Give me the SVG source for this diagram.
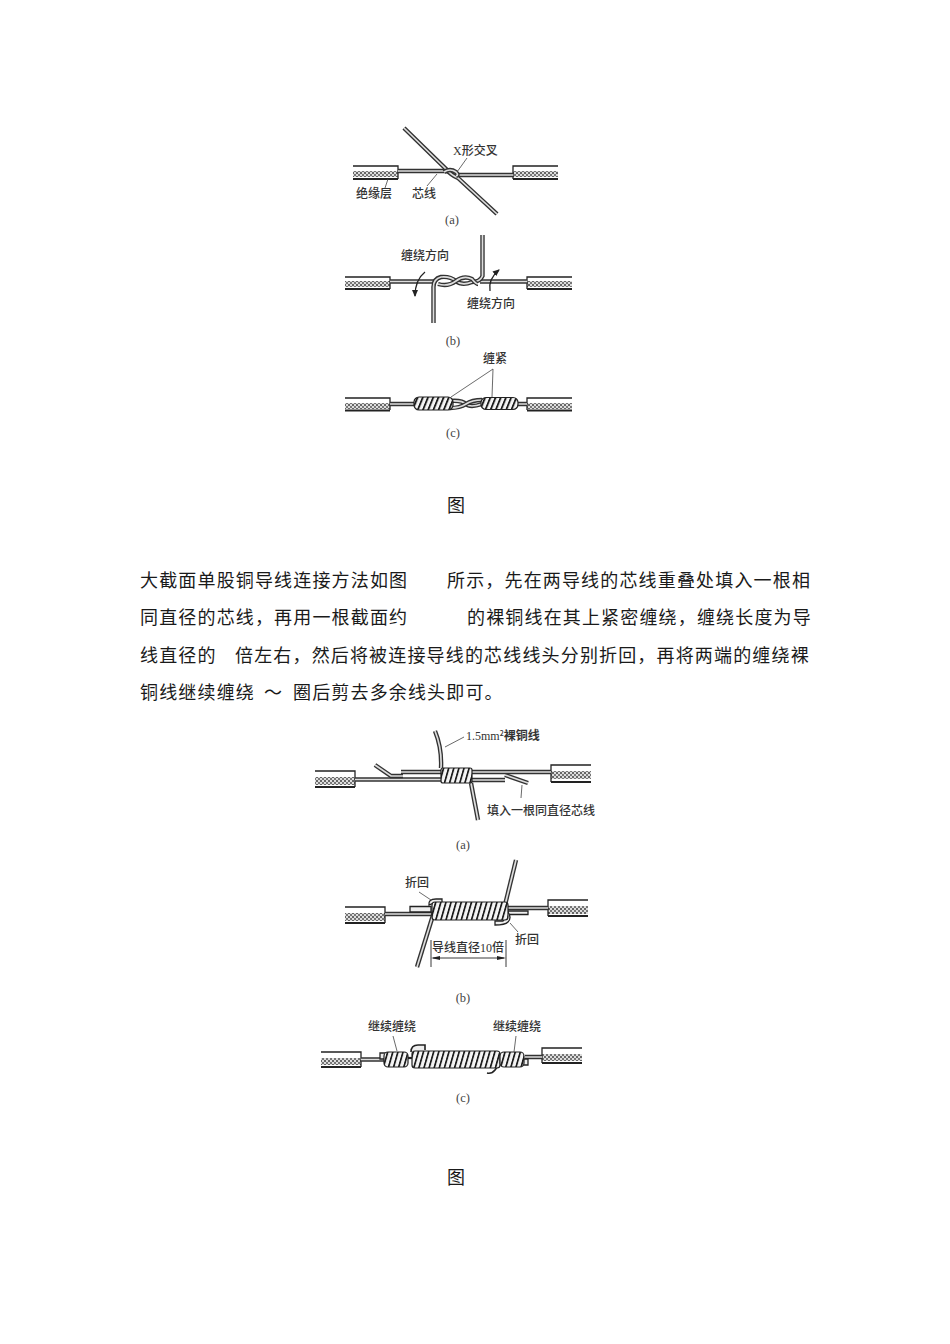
<svg xmlns="http://www.w3.org/2000/svg" width="950" height="1344" viewBox="0 0 950 1344">
<style>
.body{font-family:"Noto Sans CJK SC","Liberation Sans",sans-serif;font-size:18px;letter-spacing:1.16px;fill:#1a1a1a}
.lb{font-family:"Noto Sans CJK SC",sans-serif;font-size:12px;fill:#333;font-weight:500}
.cap{font-family:"Liberation Serif",serif;font-size:12.500px;fill:#444;text-anchor:middle}
.ln{fill:none;stroke:#222;stroke-width:1.3}
.thk{fill:none;stroke:#222;stroke-width:2.200}
.lead{fill:none;stroke:#444;stroke-width:.8}
.wo{fill:none;stroke:#333;stroke-width:4.400}
.wi{fill:none;stroke:#ddd;stroke-width:1.700}
.coil{fill:url(#cp);stroke:#222;stroke-width:1.200}
.coilb{fill:url(#cpb);stroke:#222;stroke-width:1.200}
.hat{fill:url(#hp)}
.bl{filter:url(#soft)}
</style>
<defs>
<filter id="soft" x="-5%" y="-5%" width="110%" height="110%"><feGaussianBlur stdDeviation="0.4"/></filter>
<pattern id="hp" width="4" height="4" patternUnits="userSpaceOnUse"><rect width="4" height="4" fill="#ddd"/><rect width="2" height="2" fill="#666"/><rect x="2" y="2" width="2" height="2" fill="#777"/></pattern>
<pattern id="cp" width="5.100" height="30" patternUnits="userSpaceOnUse" patternTransform="skewX(-16)"><rect width="5.100" height="30" fill="#f5f5f5"/><rect width="1.800" height="30" fill="#1c1c1c"/></pattern>
<pattern id="cpb" width="5.200" height="30" patternUnits="userSpaceOnUse" patternTransform="skewX(-22)"><rect width="5.200" height="30" fill="#f5f5f5"/><rect width="2" height="30" fill="#1c1c1c"/></pattern>
<marker id="ah" markerWidth="7" markerHeight="6" refX="6" refY="3" orient="auto" markerUnits="userSpaceOnUse"><path d="M0 0L7 3L0 6Z" fill="#222"/></marker>
</defs>
<rect width="950" height="1344" fill="#fff"/>

<g id="fig1a" class="bl">
<rect class="hat" x="353" y="171" width="45" height="6"/>
<path class="ln" d="M353 166H398V179"/><path class="thk" d="M353 179H398"/>
<rect class="hat" x="513" y="171" width="45" height="6"/>
<path class="ln" d="M558 166H513V179"/><path class="thk" d="M558 179H513"/>
<path class="wo" d="M398 171H444Q452 171 458 175H513"/><path class="wi" d="M398 171H444Q452 171 458 175H513"/>
<path class="wo" d="M404 128L446 169Q451 175 458 178L497 214"/><path class="wi" d="M404 128L446 169Q451 175 458 178L497 214"/>
<path class="wo" d="M444 172Q450 168 456 172Q459 175 456 176"/><path class="wi" d="M444 172Q450 168 456 172Q459 175 456 176"/>
<path class="lead" d="M467 158L457 172M388 179L385 188M437 174L427 186"/>
</g>
<g id="fig1a-labels">
<text class="lb" x="453" y="155"><tspan font-family="Liberation Serif">X</tspan>形交叉</text>
<text class="lb" x="356" y="198">绝缘层</text>
<text class="lb" x="412" y="198">芯线</text>
<text class="cap" x="452" y="224">(a)</text>
</g>

<g id="fig1b" class="bl">
<rect class="hat" x="345" y="281" width="45" height="6"/>
<path class="ln" d="M345 277H390V289"/><path class="thk" d="M345 289H390"/>
<rect class="hat" x="527" y="281" width="45" height="6"/>
<path class="ln" d="M572 277H527V289"/><path class="thk" d="M572 289H527"/>
<path class="wo" d="M390 281.500H436"/><path class="wi" d="M390 281.500H436"/>
<path class="wo" d="M480 281.500H527"/><path class="wi" d="M480 281.500H527"/>
<path class="wo" d="M433.500 323V288Q433 279 441 277Q450 276 456 281T472 282Q480 282 482.500 276V235"/><path class="wi" d="M433.500 323V288Q433 279 441 277Q450 276 456 281T472 282Q480 282 482.500 276V235"/>
<path class="wo" d="M438 284Q448 287 456 281T472 279Q476 284 478 284"/><path class="wi" d="M438 284Q448 287 456 281T472 279Q476 284 478 284"/>
<path class="ln" marker-end="url(#ah)" d="M425 272Q415 280 415 296"/>
<path class="ln" marker-end="url(#ah)" d="M490 291Q488 279 499 270"/>
</g>
<g id="fig1b-labels">
<text class="lb" x="401" y="260">缠绕方向</text>
<text class="lb" x="467" y="308">缠绕方向</text>
<text class="cap" x="453" y="345">(b)</text>
</g>

<g id="fig1c" class="bl">
<rect class="hat" x="345" y="403" width="45" height="6"/>
<path class="ln" d="M345 398H390V410"/><path class="thk" d="M345 410.500H390"/>
<rect class="hat" x="527" y="403" width="45" height="6"/>
<path class="ln" d="M572 398H527V410"/><path class="thk" d="M572 410.500H527"/>
<path class="wo" d="M390 404H414M516 404H527"/><path class="wi" d="M390 404H414M516 404H527"/>
<path class="wo" d="M450 401Q462 400 466 404T482 404"/><path class="wi" d="M450 401Q462 400 466 404T482 404"/>
<path class="wo" d="M450 408Q460 408 466 404T482 400"/><path class="wi" d="M450 408Q460 408 466 404T482 400"/>
<rect class="coilb" x="414" y="397" width="39" height="13" rx="5"/>
<rect class="coilb" x="481" y="397.500" width="37" height="12" rx="5"/>
<path class="lead" d="M493 369L451 397M493 369L492 397"/>
</g>
<g id="fig1c-labels">
<text class="lb" x="483" y="363">缠紧</text>
<text class="cap" x="453" y="437">(c)</text>
</g>

<g id="caption1"><text class="body" x="447" y="512">图</text></g>

<g id="paragraph">
<text class="body" x="140" y="587">大截面单股铜导线连接方法如图</text>
<text class="body" x="447" y="587">所示&#65292;先在两导线的芯线重叠处填入一根相</text>
<text class="body" x="140" y="624">同直径的芯线&#65292;再用一根截面约</text>
<text class="body" x="467" y="624">的裸铜线在其上紧密缠绕&#65292;缠绕长度为导</text>
<text class="body" x="140" y="662">线直径的</text>
<text class="body" x="235" y="662">倍左右&#65292;然后将被连接导线的芯线线头分别折回&#65292;再将两端的缠绕裸</text>
<text class="body" x="140" y="699">铜线继续缠绕</text>
<text class="body" x="264" y="699">&#65374;</text>
<text class="body" x="293" y="699">圈后剪去多余线头即可&#12290;</text>
</g>

<g id="fig2a" class="bl">
<rect class="hat" x="315" y="777" width="40" height="8"/>
<path class="ln" d="M315 771H355V787"/><path class="thk" d="M315 787H355"/>
<rect class="hat" x="551" y="771" width="40" height="8"/>
<path class="ln" d="M591 765H551V782"/><path class="thk" d="M591 782H551"/>
<path class="wo" d="M355 779.500H442"/><path class="wi" d="M355 779.500H442"/>
<path class="wo" d="M401 772H442M471 772H551"/><path class="wi" d="M401 772H442M471 772H551"/>
<path class="wo" d="M471 780H505"/><path class="wi" d="M471 780H505"/>
<path class="wo" d="M375 765L391 776H403"/><path class="wi" d="M375 765L391 776H403"/>
<path class="wo" d="M505 775L528 783"/><path class="wi" d="M505 775L528 783"/>
<path class="wo" d="M435 731Q442 748 441 768"/><path class="wi" d="M435 731Q442 748 441 768"/>
<path class="wo" d="M471 783L478 820"/><path class="wi" d="M471 783L478 820"/>
<rect class="coil" x="441" y="768" width="31" height="15" rx="2"/>
<path class="lead" d="M445 747L464 737M522 785L521 798"/>
</g>
<g id="fig2a-labels">
<text class="lb" x="466" y="740"><tspan font-family="Liberation Serif">1.5mm</tspan><tspan font-size="7" dy="-4">2</tspan><tspan dy="4" font-weight="700">裸铜线</tspan></text>
<text class="lb" x="487" y="815">填入一根同直径芯线</text>
<text class="cap" x="463" y="849">(a)</text>
</g>

<g id="fig2b" class="bl">
<rect class="hat" x="345" y="913" width="40" height="8"/>
<path class="ln" d="M345 907H385V923"/><path class="thk" d="M345 923H385"/>
<rect class="hat" x="548" y="906" width="40" height="8"/>
<path class="ln" d="M588 900H548V916"/><path class="thk" d="M588 916H548"/>
<path class="wo" d="M385 914H432M505 908H548"/><path class="wi" d="M385 914H432M505 908H548"/>
<path class="ln" d="M410 906.500H431V912H410ZM508 911H528V914.500H508Z" style="fill:#eee"/>
<path class="wo" d="M434 912L417 967"/><path class="wi" d="M434 912L417 967"/>
<path class="wo" d="M516 860L505 905"/><path class="wi" d="M516 860L505 905"/>
<path class="ln" style="fill:#eee" d="M429 905Q428 899 436 899H442V903H434Z"/>
<path class="ln" style="fill:#eee" d="M495 921H503Q507 917 508 912Q512 918 508 922Q505 925 495 925Z"/>
<rect class="coil" x="432" y="902" width="76" height="18" rx="3"/>
<path class="lead" d="M419 892L431 900M510 923L518 932"/>
<path class="ln" style="stroke-width:.9" d="M431 940V967M506 940V967M433 958H504"/>
<path d="M431 958L440 956V960ZM506 958L497 956V960Z" fill="#222"/>
</g>
<g id="fig2b-labels">
<text class="lb" x="405" y="887">折回</text>
<text class="lb" x="515" y="944">折回</text>
<text class="lb" x="432" y="952">导线直径<tspan font-family="Liberation Serif">10</tspan>倍</text>
<text class="cap" x="463" y="1002">(b)</text>
</g>

<g id="fig2c" class="bl">
<rect class="hat" x="321" y="1058" width="40" height="7"/>
<path class="ln" d="M321 1052H361V1067"/><path class="thk" d="M321 1067H361"/>
<rect class="hat" x="542" y="1054" width="40" height="7"/>
<path class="ln" d="M582 1048H542V1063"/><path class="thk" d="M582 1063H542"/>
<path class="wo" d="M361 1059.500H384M525 1057H542"/><path class="wi" d="M361 1059.500H384M525 1057H542"/>
<path class="ln" style="fill:#eee" d="M380 1053H386V1059H380ZM522 1059H528V1065H522Z"/>
<path class="ln" style="fill:#eee;stroke-width:1.600" d="M411 1052Q411 1045 418 1045H425V1050"/>
<path class="ln" style="fill:none;stroke-width:1.600" d="M487 1073Q492 1074 495 1070L498 1066"/>
<rect class="coil" x="384" y="1052" width="24" height="15" rx="4"/>
<path class="thk" d="M408 1058H413"/>
<rect class="coil" x="412" y="1051" width="88" height="17" rx="3"/>
<rect class="coil" x="500" y="1052" width="24" height="15" rx="4"/>
<path class="lead" d="M393 1036L397 1051M516 1036L514 1052"/>
</g>
<g id="fig2c-labels">
<text class="lb" x="368" y="1031">继续缠绕</text>
<text class="lb" x="493" y="1031">继续缠绕</text>
<text class="cap" x="463" y="1102">(c)</text>
</g>

<g id="caption2"><text class="body" x="447" y="1184">图</text></g>
</svg>
